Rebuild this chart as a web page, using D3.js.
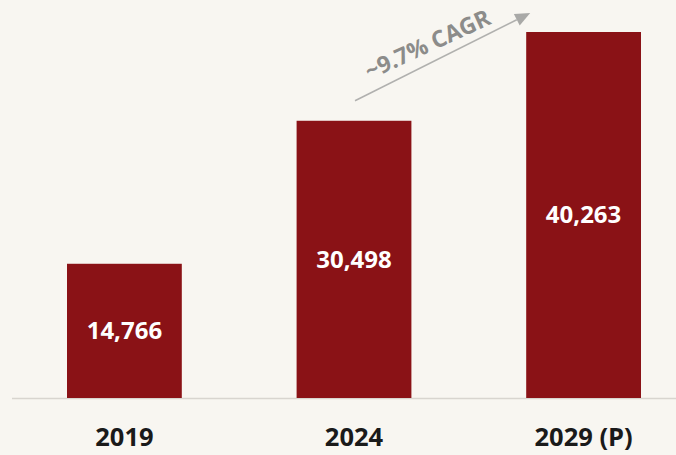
<!DOCTYPE html>
<html>
<head>
<meta charset="utf-8">
<script src="https://cdn.jsdelivr.net/npm/d3@7/dist/d3.min.js"></script>
<style>
  html, body { margin: 0; padding: 0; background: #f8f6f1; }
  svg { display: block; }
  text { font-family: "Open Sans", "Noto Sans", sans-serif; font-weight: 700; }
</style>
</head>
<body>
<script>
// Market size by year
const categories = ["2019", "2024", "2029 (P)"];
const values = [14766, 30498, 40263];
const valueLabels = ["14,766", "30,498", "40,263"];
const cagrLabel = "~9.7% CAGR";

const W = 676, H = 455;
const baseline = 398;

const svg = d3.select("body").append("svg")
  .attr("width", W).attr("height", H);

svg.append("rect").attr("width", W).attr("height", H).attr("fill", "#f8f6f1");

const x = d3.scaleBand()
  .domain(categories)
  .range([67, 641])
  .paddingInner(0.5)
  .paddingOuter(0);

const y = d3.scaleLinear()
  .domain([0, d3.max(values)])
  .range([baseline, 32]);

const data = categories.map((c, i) => ({ cat: c, value: values[i], label: valueLabels[i] }));

// baseline rule
svg.append("line")
  .attr("x1", 12).attr("x2", W)
  .attr("y1", baseline + 0.5).attr("y2", baseline + 0.5)
  .attr("stroke", "#d8d5cf").attr("stroke-width", 1.5);

// bars
svg.selectAll("rect.bar").data(data).enter().append("rect")
  .attr("class", "bar")
  .attr("x", d => x(d.cat))
  .attr("width", x.bandwidth())
  .attr("y", d => y(d.value))
  .attr("height", d => baseline - y(d.value))
  .attr("fill", "#8a1216");

// value labels, centred in each bar
svg.selectAll("text.val").data(data).enter().append("text")
  .attr("class", "val")
  .attr("x", d => x(d.cat) + x.bandwidth() / 2)
  .attr("y", d => (y(d.value) + baseline) / 2)
  .attr("dy", "0.35em")
  .attr("text-anchor", "middle")
  .attr("fill", "#ffffff")
  .attr("font-size", 24)
  .text(d => d.label);

// category axis
const axis = svg.append("g")
  .attr("transform", `translate(0,${baseline})`)
  .call(d3.axisBottom(x).tickSize(0).tickPadding(0));
axis.select(".domain").remove();
axis.selectAll("text")
  .attr("y", 39)
  .attr("dy", "0.35em")
  .attr("fill", "#1a1a1a")
  .attr("font-size", 25.5)
  .attr("font-family", "'Open Sans', sans-serif")
  .attr("font-weight", 700);

// growth arrow between 2024 and 2029 (P)
const c2 = categories[1], c3 = categories[2];
const x1 = x(c2) + x.bandwidth() / 2 + 1, y1 = y(values[1]) - 20;
const x2 = x(c3) + 4, y2 = y(values[2]) - 19;
const ang = Math.atan2(y2 - y1, x2 - x1);
const deg = ang * 180 / Math.PI;
const headLen = 15;

svg.append("line")
  .attr("x1", x1).attr("y1", y1)
  .attr("x2", x2 - Math.cos(ang) * headLen).attr("y2", y2 - Math.sin(ang) * headLen)
  .attr("stroke", "#b0b0ae").attr("stroke-width", 1.5);

svg.append("path")
  .attr("d", `M0,0 L${-headLen},-6.5 L${-headLen},6.5 Z`)
  .attr("transform", `translate(${x2},${y2}) rotate(${deg})`)
  .attr("fill", "#a9a9a7");

// CAGR label along the arrow
const t = 0.46;
const mx = x1 + (x2 - x1) * t, my = y1 + (y2 - y1) * t;
const off = 18;
const lx = mx + Math.sin(ang) * off, ly = my - Math.cos(ang) * off;
svg.append("text")
  .attr("transform", `translate(${lx},${ly}) rotate(${deg + 2})`)
  .attr("text-anchor", "middle")
  .attr("dy", "0.35em")
  .attr("fill", "#8c8c8a")
  .attr("font-size", 23)
  .text(cagrLabel);
</script>
</body>
</html>
